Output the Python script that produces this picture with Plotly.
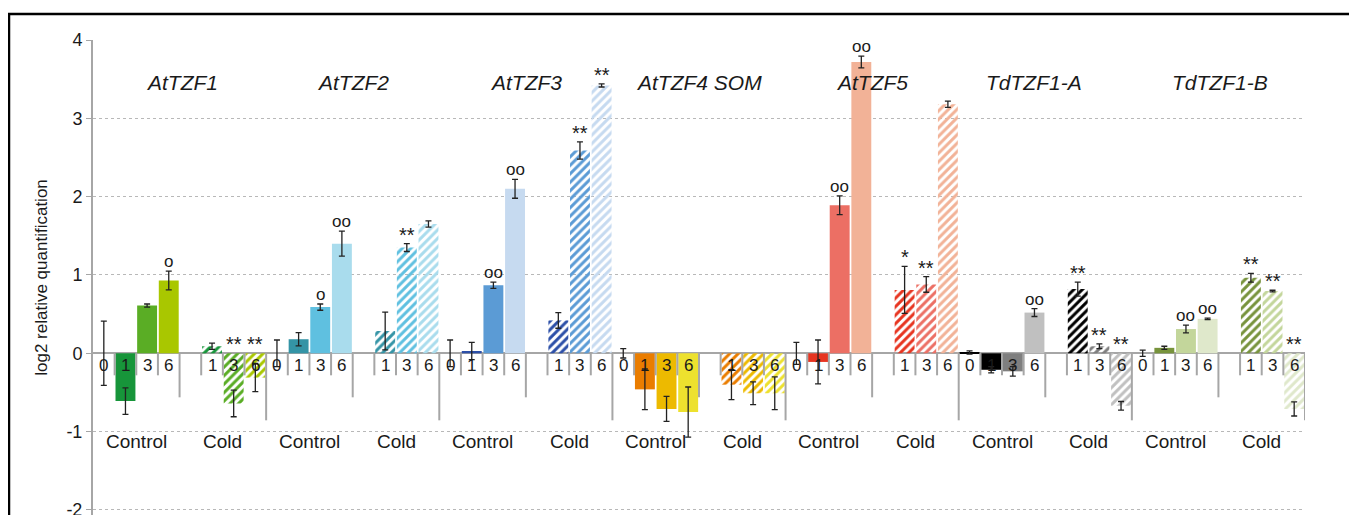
import plotly.graph_objects as go

# ---------------- data ----------------
genes = ["AtTZF1", "AtTZF2", "AtTZF3", "AtTZF4 SOM", "AtTZF5", "TdTZF1-A", "TdTZF1-B"]
control_times = ["0", "1", "3", "6"]
cold_times = ["1", "3", "6"]

control_values = [
    [0.00, -0.61, 0.61, 0.93],
    [0.00, 0.18, 0.59, 1.40],
    [0.00, 0.03, 0.87, 2.10],
    [0.00, -0.46, -0.71, -0.75],
    [0.00, -0.11, 1.89, 3.72],
    [0.01, -0.21, -0.23, 0.52],
    [0.00, 0.07, 0.31, 0.44],
]
control_err = [
    [0.41, 0.17, 0.02, 0.12],
    [0.17, 0.085, 0.04, 0.16],
    [0.17, 0.11, 0.04, 0.12],
    [0.06, 0.26, 0.16, 0.32],
    [0.14, 0.28, 0.12, 0.075],
    [0.02, 0.04, 0.06, 0.05],
    [0.04, 0.02, 0.05, 0.01],
]
cold_values = [
    [0.09, -0.64, -0.31],
    [0.285, 1.35, 1.65],
    [0.42, 2.59, 3.42],
    [-0.40, -0.51, -0.51],
    [0.81, 0.88, 3.18],
    [0.82, 0.09, -0.67],
    [0.965, 0.795, -0.71],
]
cold_err = [
    [0.04, 0.17, 0.18],
    [0.24, 0.05, 0.04],
    [0.10, 0.11, 0.02],
    [0.19, 0.145, 0.21],
    [0.30, 0.10, 0.04],
    [0.09, 0.03, 0.055],
    [0.055, 0.01, 0.09],
]
control_sig = [
    ["", "", "", "o"],
    ["", "", "o", "oo"],
    ["", "", "oo", "oo"],
    ["", "", "", ""],
    ["", "", "oo", "oo"],
    ["", "", "", "oo"],
    ["", "", "oo", "oo"],
]
cold_sig = [
    ["", "**", "**"],
    ["", "**", ""],
    ["", "**", "**"],
    ["", "", ""],
    ["*", "**", ""],
    ["**", "**", "**"],
    ["**", "**", "**"],
]
y_ticks = [-2, -1, 0, 1, 2, 3, 4]
y_tick_text = ["-2", "-1", "0", "1", "2", "3", "4"]

# ---------------- styles ----------------
gene_colors = [
    ["#17953a", "#17953a", "#5aad25", "#a9c700"],
    ["#3494a6", "#3494a6", "#5fc0e0", "#a9dced"],
    ["#2c4fa8", "#2c4fa8", "#5b9bd5", "#c6daf0"],
    ["#ea7d00", "#ea7d00", "#edba00", "#ede12e"],
    ["#e73420", "#e73420", "#ec6f64", "#f2b297"],
    ["#000000", "#000000", "#7f7f7f", "#c0c0c0"],
    ["#77933c", "#77933c", "#c3d69b", "#dfe8cb"],
]
gene_label_pos = [3.6, 11.5, 19.5, 27.5, 35.5, 43.0, 51.55]
FONT = "Liberation Sans, Arial, sans-serif"
TXT = "#1a1a1a"
AX = "#a6a6a6"
SLOTS = 8

# figure geometry (page has an 8px body margin)
W, H = 1349, 507
ML, MT, MR = 85, 32, 52
PW, PH = W - ML - MR, H - MT

cx, cy, ce, cc, csig = [], [], [], [], []
kx, ky, ke, kc, ksig = [], [], [], [], []
for g in range(len(genes)):
    for i, t in enumerate(control_times):
        cx.append(g * SLOTS + i)
        cy.append(control_values[g][i])
        ce.append(control_err[g][i])
        cc.append(gene_colors[g][i])
        csig.append(control_sig[g][i])
    for i, t in enumerate(cold_times):
        kx.append(g * SLOTS + 5 + i)
        ky.append(cold_values[g][i])
        ke.append(cold_err[g][i])
        kc.append(gene_colors[g][i + 1])
        ksig.append(cold_sig[g][i])

err_style = dict(type="data", visible=True, color="#222222", thickness=1.3, width=3)

fig = go.Figure()
fig.add_trace(go.Bar(
    x=cx, y=cy, width=0.92,
    marker=dict(color=cc, line=dict(width=0)),
    error_y=dict(array=ce, **err_style),
    hoverinfo="skip",
))
fig.add_trace(go.Bar(
    x=kx, y=ky, width=0.92,
    marker=dict(color=kc, line=dict(width=0),
                pattern=dict(shape="/", fillmode="replace", fgcolor=kc,
                             bgcolor="white", size=6, solidity=0.5)),
    error_y=dict(array=ke, **err_style),
    hoverinfo="skip",
))

annotations = []
shapes = []
lab_font = dict(size=17, color=TXT, family=FONT)
for x, t in zip(cx, [t for g in genes for t in control_times]):
    annotations.append(dict(x=x, y=0, xref="x", yref="y", text=t, showarrow=False,
                            yanchor="middle", yshift=-12, font=lab_font))
for x, t in zip(kx, [t for g in genes for t in cold_times]):
    annotations.append(dict(x=x, y=0, xref="x", yref="y", text=t, showarrow=False,
                            yanchor="middle", yshift=-12, font=lab_font))
for xs, ys, es, ss in ((cx, cy, ce, csig), (kx, ky, ke, ksig)):
    for x, v, e, s in zip(xs, ys, es, ss):
        if s:
            is_o = "o" in s
            annotations.append(dict(x=x, y=max(v + e, 0), xref="x", yref="y", text=s,
                                    showarrow=False, yanchor="bottom", yshift=-2 if is_o else -4,
                                    font=dict(size=17 if is_o else 20, color=TXT, family=FONT)))
for g, name in enumerate(genes):
    base = g * SLOTS
    annotations.append(dict(x=base + 1.5, y=0, xref="x", yref="y", text="Control", showarrow=False,
                            yanchor="middle", yshift=-88, font=dict(size=19, color=TXT, family=FONT)))
    annotations.append(dict(x=base + 5.5, y=0, xref="x", yref="y", text="Cold", showarrow=False,
                            yanchor="middle", yshift=-88, font=dict(size=19, color=TXT, family=FONT)))
    annotations.append(dict(x=gene_label_pos[g], y=3.46, xref="x", yref="y", text="<i>" + name + "</i>",
                            showarrow=False, yanchor="middle", font=dict(size=21, color=TXT, family=FONT)))
    for b, ln in ((0.5, 22), (1.5, 22), (2.5, 22), (3.5, 44), (4.5, 22), (5.5, 22), (6.5, 22), (7.5, 67)):
        shapes.append(dict(type="line", xref="x", yref="y", ysizemode="pixel", yanchor=0,
                           x0=base + b, x1=base + b, y0=0, y1=-ln,
                           line=dict(color=AX, width=2)))
annotations.append(dict(x=56.2, y=0, xref="x", yref="y", text="h", showarrow=False,
                        yanchor="middle", yshift=-12, font=lab_font))

# outer frame (page coords 8.7..1355.5 x, top 14)
shapes.append(dict(type="rect", xref="paper", yref="paper",
                   x0=(0.9 - ML) / PW, x1=(1347.3 - ML) / PW,
                   y0=-0.2, y1=(H - 6) / PH,
                   line=dict(color="black", width=2.7), fillcolor="rgba(0,0,0,0)", layer="above"))

fig.update_layout(
    width=W, height=H,
    margin=dict(l=ML, r=MR, t=MT, b=0),
    plot_bgcolor="white", paper_bgcolor="white",
    showlegend=False, barmode="overlay",
    annotations=annotations, shapes=shapes,
    font=dict(family=FONT, color=TXT),
    xaxis=dict(range=[-0.5, 55.5], showticklabels=False, showgrid=False, automargin=False,
               zeroline=False, showline=False, ticks=""),
    yaxis=dict(range=[-2.064, 4], tickvals=y_ticks, ticktext=y_tick_text,
               ticklabeloverflow="allow", automargin=False,
               showgrid=True, gridcolor="#b8b8b8", griddash="dot", gridwidth=1,
               zeroline=True, zerolinecolor=AX, zerolinewidth=2,
               showline=True, linecolor=AX, linewidth=2,
               ticks="outside", ticklen=5, tickcolor=AX,
               tickfont=dict(size=18, color=TXT, family=FONT),
               title=dict(text="log2 relative quantification", standoff=14,
                          font=dict(size=17, color=TXT, family=FONT))),
)

fig.write_html("out.html")
